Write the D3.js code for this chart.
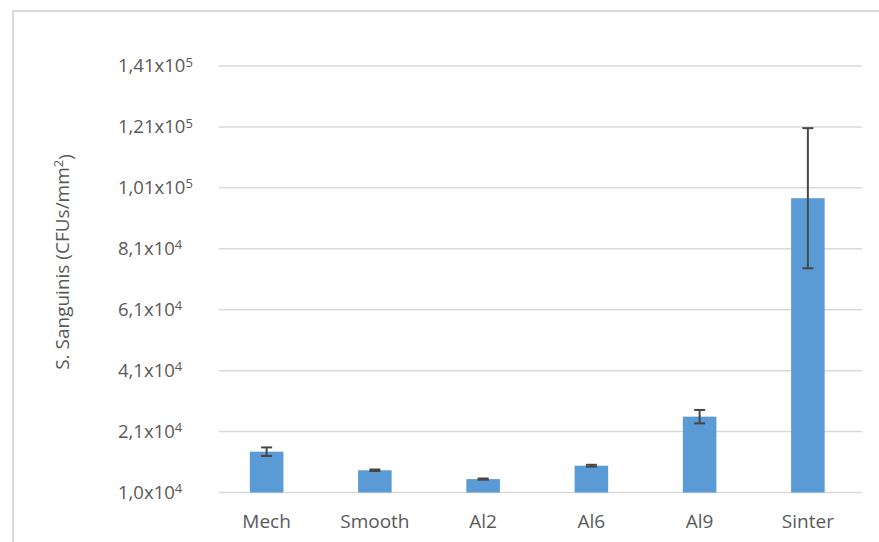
<!DOCTYPE html>
<html>
<head>
<meta charset="utf-8">
<script src="https://cdn.jsdelivr.net/npm/d3@7"></script>
<style>
  body { margin: 0; background: #fff; }
  text { font-family: "Open Sans", "Noto Sans", sans-serif; fill: #595959; }
</style>
</head>
<body>
<svg id="chart"></svg>
<script>
// data
const categories = ["Mech", "Smooth", "Al2", "Al6", "Al9", "Sinter"]
const means = [14400, 8300, 5400, 9800, 25900, 97600]
const errors = [1400, 250, 200, 300, 2200, 23000]

// y ticks (labels as printed in the original)
const tickValues = [1000, 21000, 41000, 61000, 81000, 101000, 121000, 141000]
const tickMantissa = ["1,0", "2,1", "4,1", "6,1", "8,1", "1,01", "1,21", "1,41"]
const tickExponent = ["4", "4", "4", "4", "4", "5", "5", "5"]

const width = 879
const height = 542

const data = categories.map((c, i) => ({ cat: c, mean: means[i], err: errors[i] }))

const svg = d3.select('svg#chart')
  .attr("width", width)
  .attr("height", height)

// outer frame (runs off the right and bottom edge)
svg.append("rect")
  .attr("x", 13)
  .attr("y", 11)
  .attr("width", 900)
  .attr("height", 560)
  .attr("fill", "none")
  .attr("stroke", "#d9d9d9")
  .attr("stroke-width", 2)

const x = d3.scaleBand()
  .domain(categories)
  .range([212.5, 862])
  .paddingInner(0.69)
  .paddingOuter(0.345)

const y = d3.scaleLinear()
  .domain([1000, 141000])
  .range([492.5, 66])

// gridlines
svg.append("g")
  .selectAll("line")
  .data(tickValues)
  .join("line")
  .attr("x1", 219)
  .attr("x2", 862)
  .attr("y1", d => y(d))
  .attr("y2", d => y(d))
  .attr("stroke", "#d9d9d9")
  .attr("stroke-width", 1.5)

// y tick labels
const ticks = svg.append("g")
  .selectAll("text")
  .data(tickValues)
  .join("text")
  .attr("x", 118)
  .attr("y", d => y(d))
  .attr("dy", "0.35em")
  .style("font-size", "18.5px")

ticks.append("tspan")
  .text((d, i) => tickMantissa[i] + "x10")
ticks.append("tspan")
  .attr("dy", "-0.45em")
  .style("font-size", "13px")
  .text((d, i) => tickExponent[i])

// bars
svg.append("g")
  .selectAll("rect")
  .data(data)
  .join("rect")
  .attr("x", d => x(d.cat))
  .attr("width", x.bandwidth())
  .attr("y", d => y(d.mean))
  .attr("height", d => y(1000) - y(d.mean))
  .attr("fill", "#5b9bd5")

// error bars
const eb = svg.append("g")
  .attr("stroke", "#474747")
  .attr("stroke-width", 2)

eb.selectAll("line.stem")
  .data(data)
  .join("line")
  .attr("class", "stem")
  .attr("x1", d => x(d.cat) + x.bandwidth() / 2)
  .attr("x2", d => x(d.cat) + x.bandwidth() / 2)
  .attr("y1", d => y(d.mean + d.err))
  .attr("y2", d => y(d.mean - d.err))

eb.selectAll("line.top")
  .data(data)
  .join("line")
  .attr("class", "top")
  .attr("x1", d => x(d.cat) + x.bandwidth() / 2 - 5.5)
  .attr("x2", d => x(d.cat) + x.bandwidth() / 2 + 5.5)
  .attr("y1", d => y(d.mean + d.err))
  .attr("y2", d => y(d.mean + d.err))

eb.selectAll("line.bottom")
  .data(data)
  .join("line")
  .attr("class", "bottom")
  .attr("x1", d => x(d.cat) + x.bandwidth() / 2 - 5.5)
  .attr("x2", d => x(d.cat) + x.bandwidth() / 2 + 5.5)
  .attr("y1", d => y(d.mean - d.err))
  .attr("y2", d => y(d.mean - d.err))

// x labels
svg.append("g")
  .selectAll("text")
  .data(categories)
  .join("text")
  .attr("x", d => x(d) + x.bandwidth() / 2)
  .attr("y", 528)
  .attr("text-anchor", "middle")
  .style("font-size", "19px")
  .text(d => d)

// y axis title
const title = svg.append("text")
  .attr("transform", "translate(69,262) rotate(-90)")
  .attr("text-anchor", "middle")
  .style("font-size", "19px")

title.append("tspan").text("S. Sanguinis (CFUs/mm")
title.append("tspan")
  .attr("dy", "-0.45em")
  .style("font-size", "13px")
  .text("2")
title.append("tspan")
  .attr("dy", "0.45em")
  .text(")")
</script>
</body>
</html>
